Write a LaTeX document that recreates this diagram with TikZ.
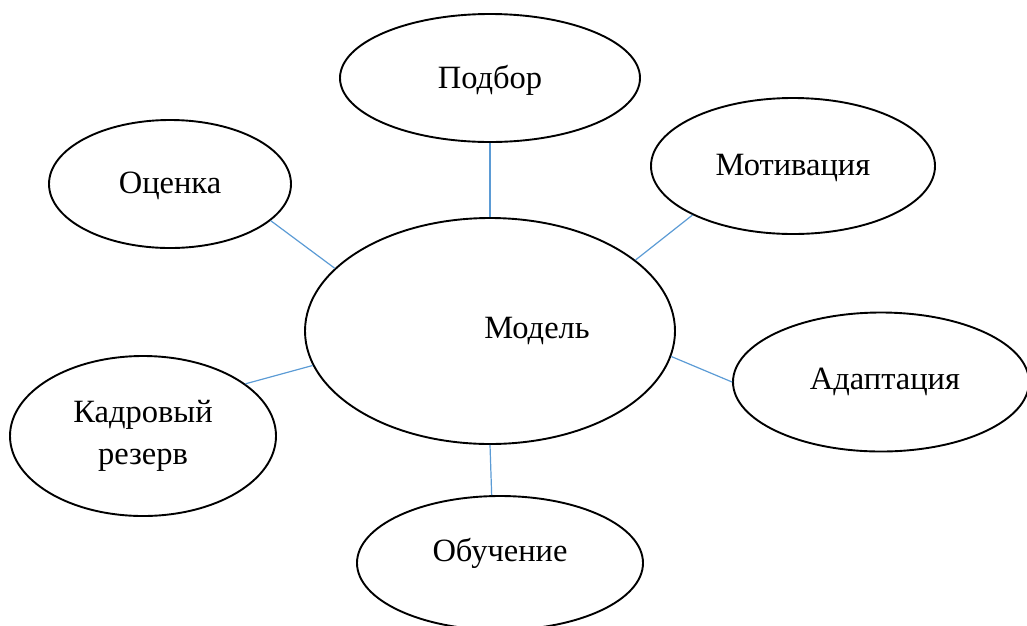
\documentclass[tikz,border=0pt]{standalone}
\usepackage{fontspec}
\setmainfont{Liberation Serif}
\usetikzlibrary{shapes.geometric}
\definecolor{linkblue}{HTML}{5B9BD5}
\tikzset{
  bubble/.style={ellipse, draw=black, line width=1.9pt, inner sep=0pt, align=center,
    font=\fontsize{32.5}{42}\selectfont},
  link/.style={draw=linkblue, line width=1.2pt}
}
\begin{document}
\begin{tikzpicture}[x=1pt,y=-1pt]
\useasboundingbox (0,0) rectangle (1027,625);
\node[bubble, minimum width=300pt, minimum height=128pt] (podbor) at (490,78) {\raisebox{-2pt}[\height][\depth]{Подбор}};
\node[bubble, minimum width=242pt, minimum height=128pt] (otsenka) at (170,184) {\raisebox{-2pt}[\height][\depth]{Оценка}};
\node[bubble, minimum width=284pt, minimum height=136pt] (motiv) at (793,166) {\raisebox{-2pt}[\height][\depth]{Мотивация}};
\node[bubble, minimum width=370pt, minimum height=226pt] (model) at (490,331) {\hspace*{94pt}Модель};
\node[bubble, minimum width=296pt, minimum height=139pt] (adapt) at (881,382) {\hspace*{8pt}Адаптация};
\node[bubble, minimum width=266pt, minimum height=160pt] (kadr) at (143,436) {Кадровый\\резерв};
\node[bubble, minimum width=286pt, minimum height=134pt] (obuch) at (500,563) {\raisebox{10pt}[\height][\depth]{Обучение}};
\draw[link] (podbor.south) -- (model.north);
\draw[link] (otsenka.-20) -- (model.158);
\draw[link] (motiv.206) -- (model.26);
\draw[link] (model.-8) -- (adapt.180);
\draw[link] (kadr.27) -- (model.191);
\draw[link] (model.south) -- (obuch.97);
\end{tikzpicture}
\end{document}
